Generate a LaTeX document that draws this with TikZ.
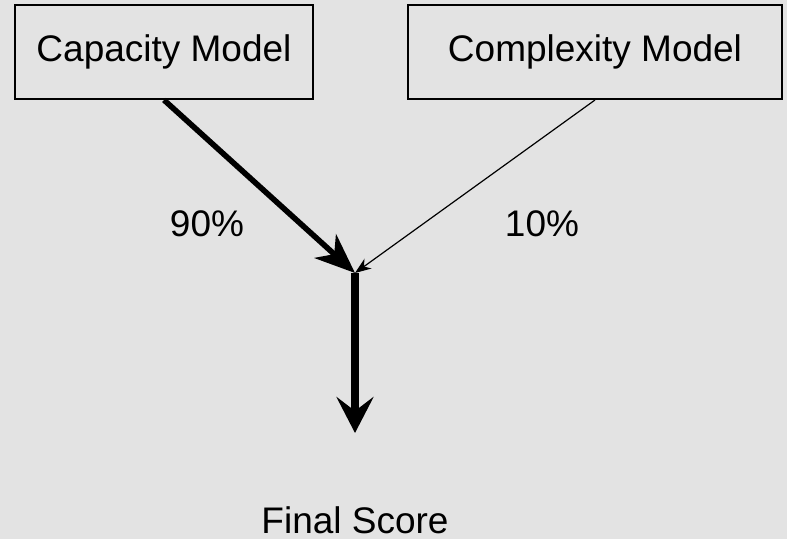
\documentclass[tikz,border=0pt]{standalone}
\usepackage{fontspec}
\setmainfont{Liberation Sans}
\usepackage{xcolor}
\usetikzlibrary{arrows.meta,positioning}
\definecolor{bgGray}{HTML}{E3E3E3}

\begin{document}
\begin{tikzpicture}[x=0.5pt, y=-0.5pt,
        box/.style={draw, line width=1pt, fill=bgGray, inner sep=0pt,
                    minimum height=47pt, font=\fontsize{18.5}{22}\selectfont},
        lbl/.style={anchor=base, inner sep=0pt, font=\fontsize{18.5}{22}\selectfont},
        heavy/.style={line width=2.8pt, -{Stealth[length=20pt, width=16pt, inset=6pt]}},
        light/.style={line width=0.6pt, -{Stealth[length=8pt, width=6pt, inset=2.5pt]}},
        down/.style={line width=4.2pt, -{Stealth[length=18pt, width=18.5pt, inset=7pt]}},
    ]
        \fill[bgGray] (0,0) rectangle (787,539);
        \useasboundingbox (0,0) rectangle (787,539);

        \node[box, minimum width=149pt] (cap) at (164,52) {Capacity Model};
        \node[box, minimum width=187pt] (cplx) at (595,52) {Complexity Model};

        \coordinate (j) at (355,273);
        \coordinate (end) at (355,433);

        \node[lbl] (w1) at (207,237) {90\%};
        \node[lbl] (w2) at (542,237) {10\%};
        \node[lbl] (fin) at (355,533) {Final Score};

        \draw[heavy] (cap.south) -- (j);
        \draw[light] (cplx.south) -- (j);
        \draw[down] (j) -- (end);
    \end{tikzpicture}
\end{document}
